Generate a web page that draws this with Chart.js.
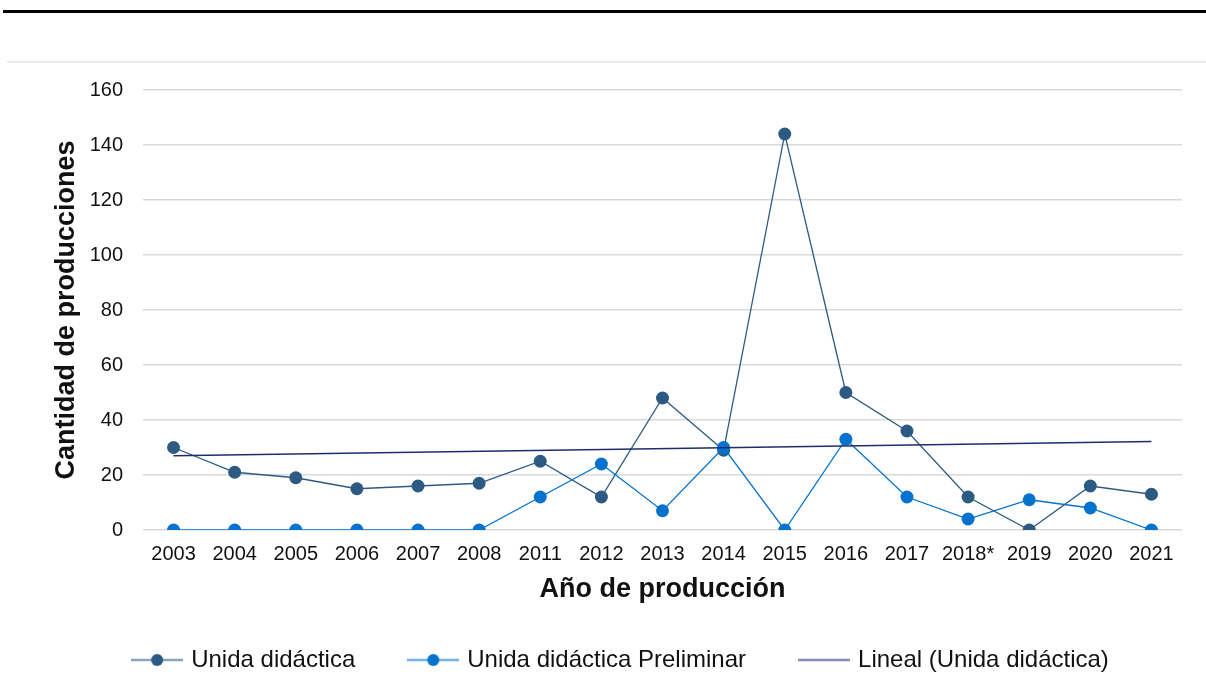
<!DOCTYPE html>
<html>
<head>
<meta charset="utf-8">
<script src="https://cdn.jsdelivr.net/npm/chart.js@4/dist/chart.umd.min.js"></script>
<style>
  html, body { margin: 0; padding: 0; background: #fff; }
  #wrap { position: relative; width: 1206px; height: 694px; }
</style>
</head>
<body>
<div id="wrap"><canvas id="lineChart" width="1206" height="694"></canvas></div>
<script>
// Chart values
const years = ['2003', '2004', '2005', '2006', '2007', '2008', '2011', '2012', '2013', '2014', '2015', '2016', '2017', '2018*', '2019', '2020', '2021'];
const unidad = [30, 21, 19, 15, 16, 17, 25, 12, 48, 29, 144, 50, 36, 12, 0, 16, 13];
const preliminar = [0, 0, 0, 0, 0, 0, 12, 24, 7, 30, 0, 33, 12, 4, 11, 8, 0];
// linear trend line: start and end values
const trendStart = 27.0;
const trendEnd = 32.2;
const yTicks = [0, 20, 40, 60, 80, 100, 120, 140, 160];

const tendencia = years.map((y, i) => i === 0 ? trendStart : (i === years.length - 1 ? trendEnd : null));

const FONT = "'Liberation Sans', Arial, sans-serif";
const darkBlue = '#2C5A82';
const lightBlue = '#0573CE';
const navy = '#1E2C6C';

// little line + marker icons for the legend
function legendIcon(color, withDot) {
  const c = document.createElement('canvas');
  c.width = 52;
  c.height = 14;
  const g = c.getContext('2d');
  g.strokeStyle = color;
  g.globalAlpha = 0.55;
  g.lineWidth = 2.5;
  g.beginPath();
  g.moveTo(0, 7);
  g.lineTo(52, 7);
  g.stroke();
  g.globalAlpha = 1;
  if (withDot) {
    g.fillStyle = color;
    g.beginPath();
    g.arc(26, 7, 6, 0, Math.PI * 2);
    g.fill();
  }
  return c;
}
const icons = [legendIcon(darkBlue, true), legendIcon(lightBlue, true), legendIcon(navy, false)];

// top rules of the figure
const frameLines = {
  id: 'frameLines',
  beforeDraw(chart) {
    const ctx = chart.ctx;
    ctx.save();
    ctx.fillStyle = '#000';
    ctx.fillRect(3, 10, 1203, 3);
    ctx.fillStyle = '#e6e6e6';
    ctx.fillRect(7, 61, 1199, 1.5);
    ctx.restore();
  }
};

// the legend row sits a bit right of the canvas centre
const legendShift = {
  id: 'legendShift',
  afterLayout(chart) {
    chart.legend.left += 31;
    chart.legend.right += 31;
  }
};

const ctx = document.getElementById('lineChart').getContext('2d');

new Chart(ctx, {
  type: 'line',
  data: {
    labels: years,
    datasets: [
      {
        label: 'Unida didáctica',
        data: unidad,
        borderColor: darkBlue,
        backgroundColor: darkBlue,
        borderWidth: 1.3,
        pointRadius: 6.5,
        pointBorderWidth: 0,
        tension: 0,
        order: 2
      },
      {
        label: 'Unida didáctica Preliminar',
        data: preliminar,
        borderColor: lightBlue,
        backgroundColor: lightBlue,
        borderWidth: 1.3,
        pointRadius: 6.5,
        pointBorderWidth: 0,
        tension: 0,
        order: 1
      },
      {
        label: 'Lineal (Unida didáctica)',
        data: tendencia,
        borderColor: navy,
        backgroundColor: navy,
        borderWidth: 1.5,
        pointRadius: 0,
        spanGaps: true,
        tension: 0,
        order: 0
      }
    ]
  },
  options: {
    responsive: false,
    animation: false,
    layout: {
      padding: { top: 90, right: 24, bottom: 12, left: 0 }
    },
    scales: {
      x: {
        offset: true,
        grid: { display: false },
        border: { display: false },
        ticks: {
          color: '#111',
          font: { family: FONT, size: 20 },
          padding: 4,
          maxRotation: 0,
          autoSkip: false
        },
        title: {
          display: true,
          text: 'Año de producción',
          color: '#111',
          font: { family: FONT, size: 27, weight: 'bold' },
          padding: { top: 0, bottom: -14 }
        },
        afterFit: scale => { scale.height = 62; }
      },
      y: {
        min: 0,
        max: 160,
        afterBuildTicks: scale => { scale.ticks = yTicks.map(v => ({ value: v })); },
        grid: { color: '#d9d9d9', lineWidth: 1.5, drawTicks: false },
        border: { display: false },
        ticks: {
          color: '#111',
          font: { family: FONT, size: 20 },
          padding: 20
        },
        title: {
          display: true,
          text: 'Cantidad de producciones',
          color: '#111',
          font: { family: FONT, size: 27, weight: 'bold' },
          padding: { top: 50, bottom: 0 }
        },
        afterFit: scale => { scale.width = 143; }
      }
    },
    plugins: {
      tooltip: { enabled: false },
      legend: {
        position: 'bottom',
        labels: {
          usePointStyle: true,
          pointStyleWidth: 44,
          padding: 56,
          color: '#111',
          font: { family: FONT, size: 24 },
          sort: (a, b) => a.datasetIndex - b.datasetIndex,
          generateLabels: chart => {
            const items = Chart.defaults.plugins.legend.labels.generateLabels(chart);
            items.forEach(it => { it.pointStyle = icons[it.datasetIndex]; });
            return items;
          }
        }
      }
    }
  },
  plugins: [frameLines, legendShift]
});
</script>
</body>
</html>
